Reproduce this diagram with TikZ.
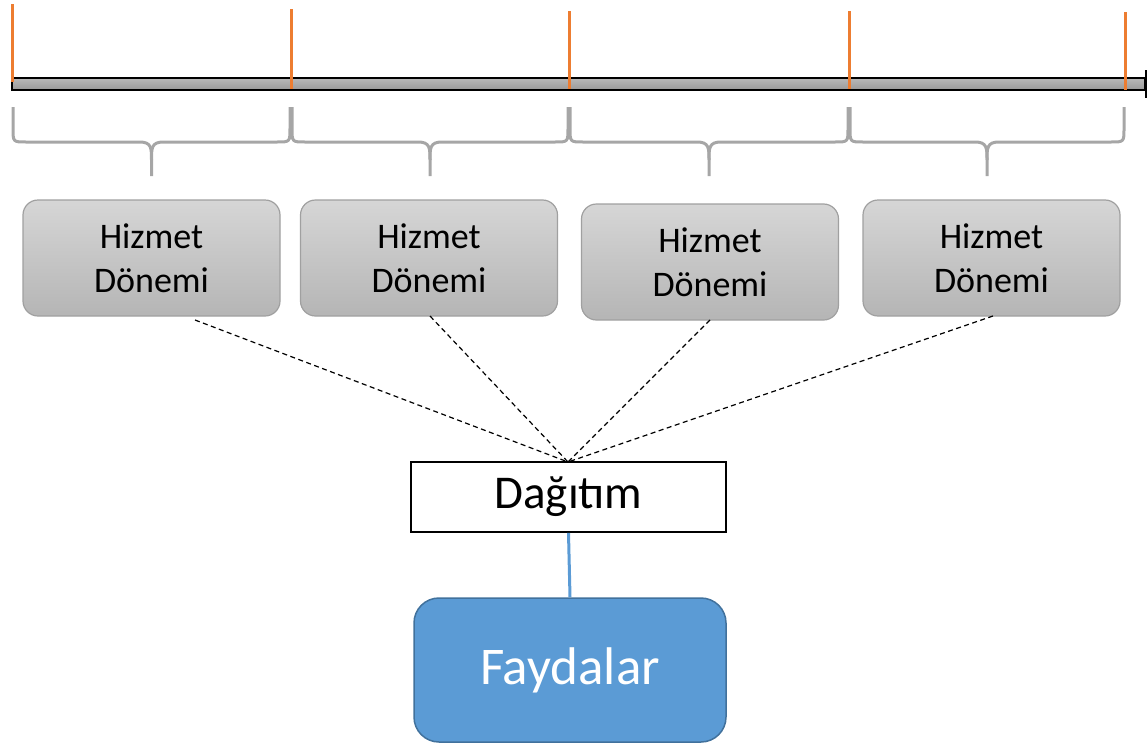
\documentclass[tikz,border=0pt]{standalone}
\usepackage{fontspec}
\setmainfont{Carlito}
\definecolor{tickorange}{HTML}{ED7D31}
\definecolor{bracegray}{HTML}{A6A6A6}
\definecolor{boxtop}{HTML}{D6D6D6}
\definecolor{boxbot}{HTML}{B5B5B5}
\definecolor{boxedge}{HTML}{A0A0A0}
\definecolor{bluefill}{HTML}{5B9BD5}
\definecolor{blueedge}{HTML}{41719C}
\begin{document}
\begin{tikzpicture}[x=1pt,y=-1pt,
  tickline/.style={tickorange,line width=3pt},
  bracestyle/.style={bracegray,line width=3pt},
  periodbox/.style={draw=boxedge,line width=1.2pt,rounded corners=15pt,
    top color=boxtop,bottom color=boxbot,minimum width=257pt,minimum height=116pt,
    align=center,font=\fontsize{36}{44}\selectfont,inner sep=0pt},
  dashconn/.style={dashed,line width=1.2pt,dash pattern=on 5pt off 3.5pt},
]
\useasboundingbox (0,0) rectangle (1148,744);
% timeline bar
\shade[top color=gray!55,bottom color=gray!80,draw=black,line width=1.5pt] (12,78) rectangle (1145,90);
\draw[black,line width=2pt] (1146,70) -- (1146,98);
% ticks
\draw[tickline] (12,4) -- (12,82);
\draw[tickline] (291,9) -- (291,89);
\draw[tickline] (569,11) -- (569,89);
\draw[tickline] (849,11) -- (849,89);
\draw[tickline] (1125,12) -- (1125,90);
% braces
\foreach \a/\b in {12/291,291/569,569/849,849/1125}{
  \pgfmathsetmacro{\m}{(\a+\b)/2}
  \draw[bracestyle] (\a+1,107) -- (\a+1,128) .. controls (\a+1,142) .. (\a+14,142)
     -- (\m-12,142) .. controls (\m,142) and (\m,148) .. (\m,160) -- (\m,176);
  \draw[bracestyle] (\b-1,107) -- (\b-1,128) .. controls (\b-1,142) .. (\b-14,142)
     -- (\m+12,142) .. controls (\m,142) and (\m,148) .. (\m,160);
}
% period boxes
\node[periodbox] (b1) at (151.5,258) {Hizmet\\Dönemi};
\node[periodbox] (b2) at (429,258) {Hizmet\\Dönemi};
\node[periodbox] (b3) at (710,262) {Hizmet\\Dönemi};
\node[periodbox] (b4) at (991.5,258) {Hizmet\\Dönemi};
% allocation
\node[draw=black,line width=1.8pt,fill=white,minimum width=315pt,minimum height=70pt,inner sep=0pt,
  font=\fontsize{47}{50}\selectfont] (d) at (568.5,497) {Dağıtım};
\node[draw=blueedge,line width=1.5pt,fill=bluefill,rounded corners=25pt,minimum width=312pt,
  minimum height=144pt,inner sep=0pt,text=white,font=\fontsize{53}{56}\selectfont] (f) at (570,670) {Faydalar};
% connectors
\coordinate (c1) at (195,320);
\coordinate (c2) at (430,316);
\coordinate (c3) at (710,320);
\coordinate (c4) at (993,316);
\coordinate (dt) at (568,462);
\foreach \c in {c1,c2,c3,c4}{\draw[dashconn] (\c) -- (dt);}
\draw[bluefill,line width=3pt] (d.south) -- (f.north);
\end{tikzpicture}
\end{document}
